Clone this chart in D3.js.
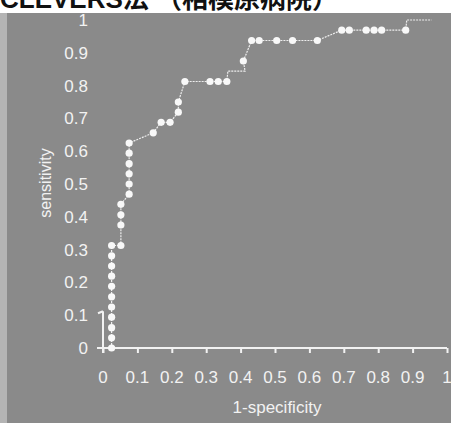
<!DOCTYPE html>
<html>
<head>
<meta charset="utf-8">
<script src="https://cdn.jsdelivr.net/npm/d3@7"></script>
<style>
  body { margin: 0; background: #fff; }
  #canvas { width: 451px; height: 423px; overflow: hidden; }
</style>
</head>
<body>
<div id="canvas"></div>
<script>
var titleText = "CLEVERS法 （相模原病院）";
var xLabel = "1-specificity";
var yLabel = "sensitivity";
var xTicks = [0, 0.1, 0.2, 0.3, 0.4, 0.5, 0.6, 0.7, 0.8, 0.9, 1];
var yTicks = [0, 0.1, 0.2, 0.3, 0.4, 0.5, 0.6, 0.7, 0.8, 0.9, 1];

// marker points (1-specificity, sensitivity)
var ptFpr = [0.025, 0.025, 0.025, 0.025, 0.025, 0.025, 0.025, 0.025, 0.025, 0.025, 0.025,
             0.052, 0.052, 0.052, 0.052, 0.076, 0.076, 0.076, 0.076, 0.076, 0.076,
             0.146, 0.169, 0.195, 0.219, 0.219, 0.238, 0.311, 0.335, 0.360,
             0.408, 0.432, 0.454, 0.505, 0.551, 0.623, 0.694, 0.716, 0.765, 0.788, 0.810, 0.880];
var ptTpr = [0, 0.031, 0.062, 0.094, 0.125, 0.156, 0.188, 0.219, 0.25, 0.281, 0.3125,
             0.3125, 0.375, 0.406, 0.438, 0.469, 0.5, 0.531, 0.562, 0.594, 0.625,
             0.656, 0.688, 0.688, 0.719, 0.75, 0.8125, 0.8125, 0.8125, 0.8125,
             0.875, 0.9375, 0.9375, 0.9375, 0.9375, 0.9375, 0.969, 0.969, 0.969, 0.969, 0.969, 0.969];

// connecting line vertices
var lineFpr = [0.025, 0.025, 0.052, 0.052, 0.076, 0.076, 0.146, 0.169, 0.195, 0.219, 0.219, 0.238,
               0.360, 0.363, 0.413, 0.408, 0.432, 0.623, 0.694, 0.880, 0.883, 0.955];
var lineTpr = [0, 0.3125, 0.3125, 0.438, 0.469, 0.625, 0.656, 0.688, 0.688, 0.719, 0.75, 0.8125,
               0.8125, 0.844, 0.844, 0.875, 0.9375, 0.9375, 0.969, 0.969, 1, 1];

var width = 451, height = 423;
var fg = "#f2f2f2";
var font = "'Liberation Sans', Arial, sans-serif";

function draw(){
  var svg = d3.select("#canvas").append("svg")
    .attr("width", width).attr("height", height);

  svg.append("text")
    .attr("x", 0).attr("y", 8)
    .attr("font-family", "'Liberation Sans', 'Noto Sans CJK JP', sans-serif")
    .attr("font-weight", "bold")
    .attr("font-size", 26)
    .attr("fill", "#111")
    .text(titleText);

  svg.append("rect").attr("x", 0).attr("y", 13).attr("width", width).attr("height", height - 13)
    .attr("fill", "#b4b4b4");
  svg.append("rect").attr("x", 7).attr("y", 13).attr("width", width - 7).attr("height", height - 13)
    .attr("fill", "#8a8a8a");

  var x = d3.scaleLinear().domain([0, 1]).range([103, 447]);
  var y = d3.scaleLinear().domain([0, 1]).range([348, 20]);

  // x axis
  var xAxis = svg.append("g").attr("transform", "translate(0,348)")
    .call(d3.axisBottom(x).tickValues(xTicks).tickSize(5).tickFormat(""));
  xAxis.select(".domain").remove();
  xAxis.selectAll("line").attr("stroke", fg).attr("stroke-width", 2);
  svg.append("line").attr("x1", x(0) - 6).attr("x2", x(1)).attr("y1", 348).attr("y2", 348)
    .attr("stroke", fg).attr("stroke-width", 2);

  svg.selectAll(".xlab").data(xTicks).enter().append("text")
    .attr("x", function(d){ return x(d); })
    .attr("y", 383)
    .attr("text-anchor", "middle")
    .attr("font-family", font)
    .attr("font-size", 17)
    .attr("fill", fg)
    .text(function(d){ return d3.format("~g")(d); });

  // short y axis stub near origin
  svg.append("line").attr("x1", x(0)).attr("x2", x(0)).attr("y1", y(0.1) - 4).attr("y2", y(0) + 5)
    .attr("stroke", fg).attr("stroke-width", 2);
  svg.append("line").attr("x1", x(0) - 5).attr("x2", x(0)).attr("y1", y(0.1) - 2).attr("y2", y(0.1) - 4)
    .attr("stroke", fg).attr("stroke-width", 2);

  svg.selectAll(".ylab").data(yTicks).enter().append("text")
    .attr("x", 88)
    .attr("y", function(d){ return y(d) + 6; })
    .attr("text-anchor", "end")
    .attr("font-family", font)
    .attr("font-size", 17)
    .attr("fill", fg)
    .text(function(d){ return d3.format("~g")(d); });

  svg.append("text")
    .attr("x", 277).attr("y", 413)
    .attr("text-anchor", "middle")
    .attr("font-family", font)
    .attr("font-size", 17)
    .attr("fill", fg)
    .text(xLabel);

  svg.append("text")
    .attr("transform", "translate(51,183) rotate(-90)")
    .attr("text-anchor", "middle")
    .attr("font-family", font)
    .attr("font-size", 16)
    .attr("fill", fg)
    .text(yLabel);

  // curve
  var pts = lineFpr.map(function(d, i){ return [x(d), y(lineTpr[i])]; });
  svg.append("path")
    .attr("d", d3.line()(pts))
    .attr("fill", "none")
    .attr("stroke", "#eeeeee")
    .attr("stroke-width", 1.2)
    .attr("stroke-dasharray", "2,1");

  svg.selectAll(".pt").data(ptFpr).enter().append("circle")
    .attr("cx", function(d){ return x(d); })
    .attr("cy", function(d, i){ return y(ptTpr[i]); })
    .attr("r", 3.6)
    .attr("fill", "#f8f8f8");
}

window.onload = draw;
</script>
</body>
</html>
